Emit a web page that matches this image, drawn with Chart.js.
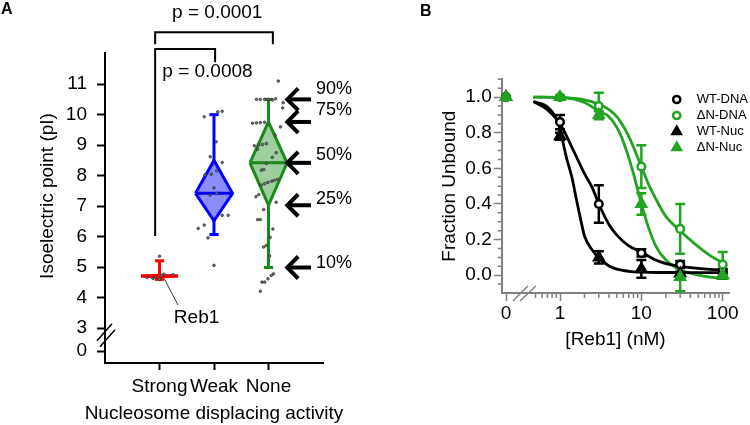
<!DOCTYPE html>
<html><head><meta charset="utf-8">
<script src="https://cdn.jsdelivr.net/npm/chart.js@4.4.1/dist/chart.umd.min.js"></script>
<style>
html,body{margin:0;padding:0;background:#fff;}
#wrap{position:relative;width:750px;height:425px;overflow:hidden;font-family:"Liberation Sans",Arial,Helvetica,sans-serif;background:#fff;}
.pane{position:absolute;top:0;width:375px;height:425px;}
.lbl{position:absolute;font-weight:bold;font-size:16px;line-height:16px;color:#000;}
</style></head>
<body><div id="wrap">
<div class="pane" style="left:0"><canvas id="cA" width="375" height="425" style="width:375px;height:425px"></canvas></div>
<div class="pane" style="left:375px"><canvas id="cB" width="375" height="425" style="width:375px;height:425px"></canvas></div>
<div class="lbl" style="left:1px;top:1px">A</div>
<div class="lbl" style="left:420px;top:3px">B</div>
</div>
<script>
// ================= DATA: panel A (isoelectric points) =================
const groupNames = ['Strong', 'Weak', 'None'];
const pI10 = [4.60, 6.07, 4.99];
const pI25 = [4.68, 6.52, 7.03];
const pI50 = [4.71, 7.42, 8.42];
const pI75 = [4.74, 8.50, 9.76];
const pI90 = [5.21, 10.00, 10.50];
const strongJitter = [0, -0.23, -0.07, 0, 0.08, 0.25, -0.12, 0.04];
const strongPI     = [5.36, 4.66, 4.68, 4.60, 4.77, 4.75, 4.63, 4.72];
const weakJitter = [-0.18, 0.07, 0.15, 0.04, -0.07, 0.15, -0.17, -0.05, 0.05, 0, -0.07, 0.05, 0.15, 0.26, -0.18, -0.29, -0.11, 0];
const weakPI     = [9.93, 10.09, 10.11, 9.11, 8.62, 8.43, 8.02, 8.05, 8.16, 7.60, 7.36, 7.42, 6.70, 6.70, 6.38, 6.27, 5.96, 5.06];
const noneJitter = [0.18, -0.22, -0.15, -0.07, 0, 0.07, 0.13, 0.27, 0.26, -0.29, -0.22, -0.15, -0.07, 0.22, 0.12, -0.26, -0.18, -0.11, -0.04, -0.2, 0.14, 0.07, -0.04, -0.13, -0.09, -0.13, -0.07, -0.01, 0.06, 0.11, 0.17, -0.23, -0.18, 0.14, -0.09, -0.2, -0.15, 0.08, 0.03, -0.04, -0.09, 0.02, 0.09, 0.05, -0.01, -0.07, -0.12, -0.15];
const nonePI     = [11.1, 10.5, 10.5, 10.5, 10.5, 10.48, 10.52, 10.39, 10.22, 9.72, 9.73, 9.74, 9.75, 9.6, 9.33, 8.98, 9.0, 9.02, 9.05, 8.87, 8.75, 8.6, 8.4, 8.18, 8.2, 7.69, 7.74, 7.78, 7.82, 7.85, 7.88, 7.31, 7.38, 7.13, 6.89, 6.56, 6.56, 6.25, 5.98, 5.71, 5.66, 5.37, 4.78, 4.73, 4.62, 4.51, 4.51, 4.21];
const yTickValuesA = [0, 3, 4, 5, 6, 7, 8, 9, 10, 11];
const pValueTexts = ['p = 0.0001', 'p = 0.0008'];
const comparisons = [[0, 2], [0, 1]];
const pctLabels = ['90%', '75%', '50%', '25%', '10%'];

// ================= DATA: panel B (binding) =================
const conc = [0, 1, 3, 10, 30, 100];
const wtDNA    = [1.00, 0.86, 0.40, 0.125, 0.06, 0.025];
const wtDNAerr = [0.004, 0.04, 0.105, 0.02, 0.02, 0.01];
const dnDNA    = [1.00, 1.00, 0.95, 0.61, 0.26, 0.06];
const dnDNAerr = [0.004, 0.01, 0.075, 0.12, 0.14, 0.07];
const wtNuc    = [1.00, 0.78, 0.10, 0.035, 0.01, 0.0];
const wtNucErr = [0.004, 0.02, 0.035, 0.05, 0.01, 0.01];
const dnNuc    = [1.00, 1.00, 0.90, 0.40, -0.01, 0.0];
const dnNucErr = [0.004, 0.01, 0.02, 0.06, 0.08, 0.02];
const fitWtDnaX = [0.47, 0.7, 1, 1.5, 2, 2.5, 3, 4, 5, 7, 10, 15, 20, 30, 50, 70, 100];
const fitWtDnaY = [0.975, 0.93, 0.85, 0.69, 0.57, 0.49, 0.40, 0.285, 0.225, 0.165, 0.13, 0.085, 0.065, 0.05, 0.038, 0.033, 0.03];
const fitWtNucX = [0.47, 0.7, 0.9, 1, 1.2, 1.4, 1.6, 1.8, 2, 2.5, 3, 4, 5, 7, 10, 20, 50, 100];
const fitWtNucY = [0.975, 0.945, 0.88, 0.82, 0.66, 0.55, 0.42, 0.31, 0.22, 0.14, 0.098, 0.052, 0.034, 0.022, 0.017, 0.015, 0.014, 0.014];
const fitDnDnaX = [0.47, 1, 2, 3, 4, 5, 7, 10, 12, 15, 20, 30, 50, 70, 100];
const fitDnDnaY = [1.0, 0.998, 0.985, 0.96, 0.93, 0.89, 0.78, 0.61, 0.52, 0.43, 0.33, 0.25, 0.16, 0.11, 0.07];
const fitDnNucX = [0.47, 1, 2, 3, 4, 5, 6, 7, 8, 10, 12, 15, 20, 30, 50, 100];
const fitDnNucY = [1.0, 0.998, 0.97, 0.92, 0.89, 0.83, 0.75, 0.66, 0.57, 0.40, 0.28, 0.165, 0.085, 0.03, 0.0, -0.02];
const seriesNames = ['WT-DNA', '\u0394N-DNA', 'WT-Nuc', '\u0394N-Nuc'];
const xTicksB = [0, 1, 10, 100];
const xTickLabelsB = ['0', '1', '10', '100'];
const xMinorB = [0.5, 0.6, 0.7, 0.8, 0.9, 2, 3, 4, 5, 6, 7, 8, 9, 20, 30, 40, 50, 60, 70, 80, 90];
const yTicksB = [0, 0.2, 0.4, 0.6, 0.8, 1.0];
const yMinorB = [-0.05, 0.05, 0.1, 0.15, 0.25, 0.3, 0.35, 0.45, 0.5, 0.55, 0.65, 0.7, 0.75, 0.85, 0.9, 0.95, 1.05, 1.1];

// ================= styling / layout =================
const FONT = '"Liberation Sans", Arial, Helvetica, sans-serif';
Chart.defaults.font.family = FONT;
Chart.defaults.color = '#000';
Chart.defaults.animation = false;

const A_ZERO_AT = 2.25;          // where the broken axis shows "0"
const mapA = v => (v === 0 ? A_ZERO_AT : v);
const colA = ['#ff0000', '#0000ff', '#178a17'];
const fillA = ['#ff0000', 'rgba(0,0,255,0.45)', 'rgba(23,138,23,0.42)'];
const HW = 0.34, CAP = 0.085;
const bracketStyle = [
  {dxL: -0.08, dxR: 0.08, top: 12.70, legL: 12.31, legR: 12.31, textX: 2.06, textY: 13.34},
  {dxL: -0.08, dxR: 0.02, top: 12.15, legL: 6.02, legR: 11.72, textX: 1.88, textY: 11.40}
];
const arrowStyle = {tipX: 3.345, tailX: 3.78, headDx: 0.2, headDy: 11, labelDy: [-10.7, -12, -7.7, -6, -4]};

const groupX = [1, 2, 3];
const jitters = [strongJitter, weakJitter, noneJitter];
const pis = [strongPI, weakPI, nonePI];

const dsA = [];
pis.forEach((vals, g) => dsA.push({
  type: 'scatter', data: vals.map((v, k) => ({x: groupX[g] + jitters[g][k], y: v})),
  pointRadius: 1.3, pointBackgroundColor: '#777777', pointBorderColor: '#222', pointBorderWidth: 0.7, clip: false
}));
groupX.forEach((c, g) => {
  const line = pts => ({type: 'line', data: pts, borderColor: colA[g], borderWidth: 3, pointRadius: 0,
    fill: false, tension: 0, clip: false, borderJoinStyle: 'miter', borderCapStyle: 'butt'});
  dsA.push(line([{x: c - HW, y: pI50[g]}, {x: c + HW, y: pI50[g]}]));
  dsA.push(line([{x: c - CAP, y: pI90[g]}, {x: c + CAP, y: pI90[g]}]));
  dsA.push(line([{x: c - CAP, y: pI10[g]}, {x: c + CAP, y: pI10[g]}]));
  dsA.push(line([{x: c, y: pI75[g]}, {x: c, y: pI90[g]}]));
  dsA.push(line([{x: c, y: pI25[g]}, {x: c, y: pI10[g]}]));
  const d = line([{x: c - HW, y: pI50[g]}, {x: c, y: pI75[g]}, {x: c + HW, y: pI50[g]}, {x: c, y: pI25[g]}, {x: c - HW, y: pI50[g]}]);
  d.fill = 'shape'; d.backgroundColor = fillA[g];
  dsA.push(d);
});

const annotA = {
  id: 'annotA',
  afterDraw(chart) {
    const {ctx} = chart; const x = chart.scales.x, y = chart.scales.y;
    ctx.save();
    ctx.fillStyle = '#000'; ctx.strokeStyle = '#000';
    // axis titles
    ctx.font = '19px ' + FONT; ctx.textAlign = 'center'; ctx.textBaseline = 'middle';
    ctx.fillText('Nucleosome displacing activity', (x.left + x.right) / 2, 414);
    ctx.save();
    ctx.translate(47.5, 196); ctx.rotate(-Math.PI / 2);
    ctx.fillText('Isoelectric point (pI)', 0, 0);
    ctx.restore();
    // axis break
    const bx = x.left, by = y.getPixelForValue(2.85);
    ctx.lineWidth = 1.5;
    ctx.beginPath();
    ctx.moveTo(bx - 8, by + 8); ctx.lineTo(bx + 7, by - 9);
    ctx.moveTo(bx - 5, by + 14); ctx.lineTo(bx + 10, by - 3);
    ctx.stroke();
    // significance brackets
    ctx.lineWidth = 2; ctx.lineJoin = 'miter';
    comparisons.forEach((cmp, i) => {
      const s = bracketStyle[i];
      const xl = x.getPixelForValue(groupX[cmp[0]] + s.dxL), xr = x.getPixelForValue(groupX[cmp[1]] + s.dxR);
      ctx.beginPath();
      ctx.moveTo(xl, y.getPixelForValue(s.legL));
      ctx.lineTo(xl, y.getPixelForValue(s.top));
      ctx.lineTo(xr, y.getPixelForValue(s.top));
      ctx.lineTo(xr, y.getPixelForValue(s.legR));
      ctx.stroke();
      ctx.fillText(pValueTexts[i], x.getPixelForValue(s.textX), y.getPixelForValue(s.textY));
    });
    // percentile arrows for "None"
    const q = [pI90[2], pI75[2], pI50[2], pI25[2], pI10[2]];
    ctx.lineWidth = 4; ctx.lineCap = 'butt';
    ctx.font = '18px ' + FONT; ctx.textAlign = 'left';
    q.forEach((v, i) => {
      const py = y.getPixelForValue(v);
      const tip = x.getPixelForValue(arrowStyle.tipX), tail = x.getPixelForValue(arrowStyle.tailX);
      const hx = x.getPixelForValue(arrowStyle.tipX + arrowStyle.headDx);
      ctx.beginPath(); ctx.moveTo(tip + 2, py); ctx.lineTo(tail, py); ctx.stroke();
      ctx.beginPath(); ctx.moveTo(hx, py - arrowStyle.headDy); ctx.lineTo(tip, py); ctx.lineTo(hx, py + arrowStyle.headDy); ctx.stroke();
      ctx.fillText(pctLabels[i], tail + 5, py + arrowStyle.labelDy[i]);
    });
    // Reb1 label
    ctx.lineWidth = 1; ctx.strokeStyle = '#333';
    ctx.beginPath();
    ctx.moveTo(x.getPixelForValue(1.09), y.getPixelForValue(4.61));
    ctx.lineTo(x.getPixelForValue(1.34), y.getPixelForValue(3.76));
    ctx.stroke();
    ctx.font = '19px ' + FONT; ctx.textAlign = 'center';
    ctx.fillText('Reb1', x.getPixelForValue(1.68), y.getPixelForValue(3.34));
    ctx.restore();
  }
};

new Chart(document.getElementById('cA'), {
  type: 'scatter',
  data: {datasets: dsA},
  options: {
    responsive: false, devicePixelRatio: 1, animation: false,
    layout: {padding: {left: 0, top: 52.7, right: 52, bottom: 0.6}},
    plugins: {legend: {display: false}, tooltip: {enabled: false}},
    scales: {
      x: {type: 'linear', min: 0, max: 4,
        afterBuildTicks: s => { s.ticks = groupX.map(v => ({value: v})); },
        afterFit: s => { s.height = 61.4; },
        ticks: {callback: (v, i) => groupNames[i], font: {size: 19}, color: '#000', padding: 5, autoSkip: false, maxRotation: 0, minRotation: 0},
        grid: {display: true, drawOnChartArea: false, drawTicks: true, tickLength: 7, tickColor: '#000', tickWidth: 2},
        border: {display: true, color: '#000', width: 2},
        title: {display: false}
      },
      y: {type: 'linear', min: 1.86, max: 12.03,
        afterBuildTicks: s => { s.ticks = yTickValuesA.map(v => ({value: mapA(v)})); },
        afterFit: s => { s.width = 105; },
        ticks: {callback: (v, i) => String(yTickValuesA[i]), font: {size: 19}, color: '#000', padding: 10, autoSkip: false},
        grid: {display: true, drawOnChartArea: false, drawTicks: true, tickLength: 8, tickColor: '#000', tickWidth: 2},
        border: {display: true, color: '#000', width: 2}
      }
    }
  },
  plugins: [annotA]
});

// ================= Panel B =================
const ZERO_X = 0.217;            // where the broken log axis shows "0"
const mapB = c => (c === 0 ? ZERO_X : c);
const BLACK = '#000000', GREEN = '#22a322';
const seriesB = [
  {name: seriesNames[0], vals: wtDNA, err: wtDNAerr, color: BLACK, tri: false, fx: fitWtDnaX, fy: fitWtDnaY},
  {name: seriesNames[1], vals: dnDNA, err: dnDNAerr, color: GREEN, tri: false, fx: fitDnDnaX, fy: fitDnDnaY},
  {name: seriesNames[2], vals: wtNuc, err: wtNucErr, color: BLACK, tri: true, fx: fitWtNucX, fy: fitWtNucY},
  {name: seriesNames[3], vals: dnNuc, err: dnNucErr, color: GREEN, tri: true, fx: fitDnNucX, fy: fitDnNucY}
];
const dsB = [];
[3, 2, 1, 0].forEach(i => {
  const s = seriesB[i];
  dsB.push({type: 'scatter', label: s.name, data: conc.map((c, k) => ({x: mapB(c), y: s.vals[k]})),
    pointStyle: s.tri ? 'triangle' : 'circle', pointRadius: s.tri ? 6.5 : 3.8,
    pointBackgroundColor: s.tri ? s.color : '#ffffff', pointBorderColor: s.color, pointBorderWidth: s.tri ? 1.5 : 2.5, clip: false});
});
[0, 1, 2, 3].forEach(i => {
  const s = seriesB[i];
  dsB.push({type: 'line', data: s.fx.map((v, k) => ({x: v, y: s.fy[k]})), borderColor: s.color, borderWidth: 2.8,
    pointRadius: 0, fill: false, cubicInterpolationMode: 'monotone', clip: false});
});

const annotB = {
  id: 'annotB',
  beforeDatasetsDraw(chart) {
    const {ctx} = chart; const x = chart.scales.x, y = chart.scales.y;
    ctx.save(); ctx.lineWidth = 2.5; ctx.lineCap = 'butt';
    seriesB.forEach(s => {
      ctx.strokeStyle = s.color;
      conc.forEach((c, k) => {
        const px = x.getPixelForValue(mapB(c));
        const yt = y.getPixelForValue(s.vals[k] + s.err[k]), yb = y.getPixelForValue(s.vals[k] - s.err[k]);
        ctx.beginPath();
        ctx.moveTo(px, yt); ctx.lineTo(px, yb);
        ctx.moveTo(px - 5, yt); ctx.lineTo(px + 5, yt);
        ctx.moveTo(px - 5, yb); ctx.lineTo(px + 5, yb);
        ctx.stroke();
      });
    });
    ctx.restore();
  },
  afterDraw(chart) {
    const {ctx} = chart; const x = chart.scales.x, y = chart.scales.y;
    ctx.save();
    ctx.strokeStyle = '#808080'; ctx.lineWidth = 1.5;
    const ax = chart.chartArea.left, ay = chart.chartArea.bottom;
    ctx.beginPath();
    xMinorB.forEach(v => { const px = x.getPixelForValue(v); ctx.moveTo(px, ay); ctx.lineTo(px, ay + 5); });
    yMinorB.forEach(v => { const py = y.getPixelForValue(v); ctx.moveTo(ax, py); ctx.lineTo(ax - 4, py); });
    ctx.stroke();
    // axis break on x
    const bx = x.getPixelForValue(0.36);
    ctx.beginPath();
    ctx.moveTo(bx - 11, ay + 8); ctx.lineTo(bx + 4, ay - 7);
    ctx.moveTo(bx - 4, ay + 8); ctx.lineTo(bx + 12, ay - 7);
    ctx.stroke();
    // legend
    ctx.font = '13px ' + FONT; ctx.textAlign = 'left'; ctx.textBaseline = 'middle';
    seriesB.forEach((s, i) => {
      const ly = 99.5 + i * 16, lx = 301.7;
      ctx.beginPath();
      if (s.tri) {
        const r = 7.3;
        ctx.moveTo(lx, ly - r); ctx.lineTo(lx + r * 0.866, ly + r / 2); ctx.lineTo(lx - r * 0.866, ly + r / 2); ctx.closePath();
        ctx.fillStyle = s.color; ctx.fill();
      } else {
        ctx.arc(lx, ly, 3.6, 0, Math.PI * 2);
        ctx.fillStyle = '#fff'; ctx.fill();
        ctx.lineWidth = 2.5; ctx.strokeStyle = s.color; ctx.stroke();
      }
      ctx.fillStyle = '#000';
      ctx.fillText(s.name, 321.7, ly);
    });
    ctx.restore();
  }
};

new Chart(document.getElementById('cB'), {
  type: 'scatter',
  data: {datasets: dsB},
  options: {
    responsive: false, devicePixelRatio: 1, animation: false,
    layout: {padding: {left: 59.6, top: 79.3, right: 20.7, bottom: 69.6}},
    plugins: {legend: {display: false}, tooltip: {enabled: false}},
    scales: {
      x: {type: 'logarithmic', min: 0.192, max: 120.5,
        afterBuildTicks: s => { s.ticks = xTicksB.map(v => ({value: mapB(v)})); },
        afterFit: s => { s.height = 62.4; },
        ticks: {callback: (v, i) => xTickLabelsB[i], font: {size: 19}, color: '#000', padding: 1, autoSkip: false, maxRotation: 0, minRotation: 0},
        grid: {display: true, drawOnChartArea: false, drawTicks: true, tickLength: 8, tickColor: '#808080', tickWidth: 1.5},
        border: {display: true, color: '#808080', width: 2},
        title: {display: true, text: '[Reb1] (nM)', font: {size: 19}, color: '#000', padding: {top: 0, bottom: 4}}
      },
      y: {type: 'linear', min: -0.1, max: 1.1,
        afterBuildTicks: s => { s.ticks = yTicksB.map(v => ({value: v})); },
        afterFit: s => { s.width = 67.1; },
        ticks: {callback: v => Number(v).toFixed(1), font: {size: 19}, color: '#000', padding: 2, autoSkip: false},
        grid: {display: true, drawOnChartArea: false, drawTicks: true, tickLength: 8, tickColor: '#808080', tickWidth: 1.5},
        border: {display: true, color: '#808080', width: 2},
        title: {display: true, text: 'Fraction Unbound', font: {size: 19}, color: '#000', padding: {top: 4, bottom: 4}}
      }
    }
  },
  plugins: [annotB]
});
</script>
</body></html>
